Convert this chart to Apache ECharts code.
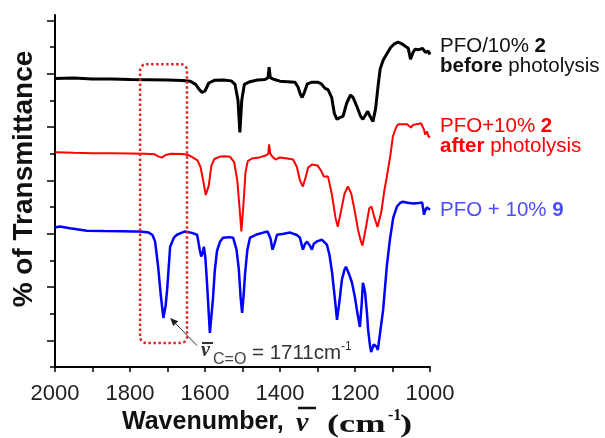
<!DOCTYPE html>
<html><head><meta charset="utf-8">
<script src="https://cdn.jsdelivr.net/npm/echarts@6/dist/echarts.min.js"></script>
<style>html,body{margin:0;padding:0;background:#fff}#c{width:605px;height:438px}</style>
</head><body><div id="c"></div>
<script>
// ---- data (wavenumber cm-1, offset transmittance in tick units) ----
const blackWn = [2000,1950,1900,1850,1800,1750,1700,1660,1640,1625,1615,1608,1600,1590,1575,1550,1530,1520,1512,1507,1502,1495,1480,1460,1440,1432,1429,1426,1415,1400,1380,1360,1352,1345,1341,1335,1327,1315,1300,1290,1280,1272,1262,1255,1248,1240,1232,1222,1212,1205,1195,1185,1179,1172,1166,1160,1152,1145,1138,1133,1125,1115,1105,1095,1085,1075,1065,1058,1052,1045,1040,1030,1020,1012,1005,1000];
const blackT = [10.82,10.84,10.80,10.80,10.78,10.77,10.76,10.74,10.72,10.6,10.4,10.30,10.35,10.65,10.75,10.76,10.73,10.6,10.0,8.8,10.0,10.6,10.70,10.76,10.78,10.85,11.24,10.85,10.78,10.72,10.70,10.68,10.5,10.2,10.11,10.3,10.62,10.68,10.68,10.62,10.45,10.40,10.1,9.5,9.29,9.36,9.4,9.9,10.2,10.1,9.77,9.4,9.29,9.45,9.59,9.4,9.21,9.7,10.6,11.17,11.5,11.75,11.98,12.12,12.18,12.12,12.02,11.95,11.54,11.8,11.92,11.9,11.95,11.8,11.85,11.72];

const redWn = [2000,1950,1900,1850,1800,1760,1735,1725,1715,1705,1690,1660,1645,1635,1620,1612,1605,1598,1594,1590,1583,1575,1560,1545,1533,1522,1514,1508,1503,1498,1492,1486,1475,1455,1438,1431,1429,1426,1420,1412,1400,1380,1365,1355,1347,1339,1332,1325,1315,1300,1290,1283,1272,1262,1252,1246,1238,1228,1219,1210,1200,1192,1184,1180,1176,1170,1162,1156,1148,1140,1136,1130,1122,1115,1105,1099,1090,1085,1070,1061,1051,1045,1040,1030,1024,1016,1013,1008,1004,1000];
const redT = [8.05,8.03,8.02,8.02,8.01,8.0,7.98,7.90,7.85,7.95,8.0,7.99,7.95,7.88,7.75,7.5,7.0,6.45,6.39,6.8,7.55,7.80,7.89,7.90,7.88,7.67,7.0,6.0,5.08,6.0,7.3,7.72,7.82,7.86,7.93,8.0,8.35,8.0,7.88,7.78,7.86,7.82,7.78,7.5,7.0,6.77,7.1,7.48,7.59,7.56,7.35,7.14,7.14,6.5,5.6,5.26,5.8,6.5,6.77,6.5,5.8,5.15,4.7,4.55,4.62,5.3,5.95,6.02,5.6,5.25,5.23,5.8,6.6,7.14,8.0,8.65,9.0,9.10,9.10,9.10,8.98,9.08,9.10,9.12,9.14,8.9,8.72,8.83,8.65,8.61];

const blueWn = [2000,1987,1960,1915,1870,1820,1790,1773,1750,1740,1733,1725,1718,1711,1705,1701,1696,1693,1683,1675,1660,1653,1635,1621,1614,1610,1606,1603,1599,1594,1590,1587,1583,1579,1574,1568,1560,1552,1535,1525,1516,1510,1505,1501,1497,1493,1487,1480,1460,1445,1433,1429,1425,1420,1415,1408,1390,1373,1355,1347,1339,1333,1328,1320,1315,1310,1300,1288,1275,1268,1261,1254,1248,1242,1235,1228,1224,1215,1208,1200,1195,1187,1182,1179,1176,1173,1168,1165,1160,1157,1150,1147,1142,1139,1132,1125,1115,1107,1098,1088,1080,1072,1060,1045,1030,1021,1018,1016,1012,1008,1004,1000];
const blueT = [5.23,5.27,5.2,5.11,5.10,5.09,5.08,5.08,5.04,4.95,4.70,3.76,2.7,1.84,2.3,2.89,3.9,4.51,4.85,4.96,5.05,5.08,5.03,4.96,4.4,4.14,4.3,4.51,4.1,3.0,2.0,1.28,1.9,2.52,3.6,4.35,4.7,4.85,4.87,4.85,4.4,3.7,2.6,2.03,2.7,3.53,4.4,4.85,4.98,5.04,5.08,5.15,4.8,4.40,4.6,4.96,5.0,5.04,4.95,4.85,4.40,4.62,4.70,4.55,4.40,4.62,4.72,4.77,4.59,4.2,3.53,2.6,1.77,2.4,3.27,3.65,3.76,3.45,3.16,2.6,2.14,1.50,2.4,3.16,3.0,2.78,2.0,1.39,0.8,0.56,0.85,0.90,0.75,0.64,1.4,2.14,3.8,4.77,5.6,6.02,6.15,6.20,6.16,6.13,6.15,6.17,5.9,5.71,5.9,5.98,5.95,5.90];

const xLabelValues = [2000,1800,1600,1400,1200,1000];
const yLongTicks = [1,3,5,7,9,11,13];
const yShortTicks = [0,2,4,6,8,10,12];

// annotation anchors in data space
const boxWn = [1773, 1648];
const boxT = [0.90, 11.35];
const peakCO = [1693, 1.84];
const arrowTail = [1621, 0.80];

function pairs(w, t) { return w.map((x, i) => [x, t[i]]); }

const SANS = 'Liberation Sans, Arial, sans-serif';
const SERIF = 'Liberation Serif, Times New Roman, serif';

const chart = echarts.init(document.getElementById('c'));
const yBase = {
  type: 'value', min: 0, max: 13.2, position: 'left',
  axisLabel: { show: false }, splitLine: { show: false }
};
chart.setOption({
  animation: false,
  grid: { left: 55, right: 175, top: 15, bottom: 71 },
  xAxis: {
    type: 'value', min: 1000, max: 2000, interval: 100, inverse: true,
    axisLine: { lineStyle: { color: '#000', width: 2 } },
    axisTick: { length: 5, lineStyle: { color: '#000', width: 1.5 } },
    axisLabel: {
      color: '#222', fontSize: 22, fontFamily: SANS, margin: 16,
      formatter: v => xLabelValues.includes(v) ? String(v) : ''
    },
    splitLine: { show: false }
  },
  yAxis: [
    Object.assign({}, yBase, {
      axisLine: { show: true, lineStyle: { color: '#000', width: 2 } },
      axisTick: { show: true, customValues: yLongTicks, length: 8, lineStyle: { color: '#000', width: 1.5 } }
    }),
    Object.assign({}, yBase, {
      axisLine: { show: false },
      axisTick: { show: true, customValues: yShortTicks, length: 5, lineStyle: { color: '#000', width: 1.5 } }
    })
  ],
  series: [
    { type: 'line', data: pairs(blackWn, blackT), showSymbol: false, symbol: 'none',
      lineStyle: { color: '#000', width: 3 }, itemStyle: { color: '#000' } },
    { type: 'line', data: pairs(redWn, redT), showSymbol: false, symbol: 'none',
      lineStyle: { color: '#ff0000', width: 2 }, itemStyle: { color: '#ff0000' } },
    { type: 'line', data: pairs(blueWn, blueT), showSymbol: false, symbol: 'none',
      lineStyle: { color: '#0000ff', width: 2.5 }, itemStyle: { color: '#0000ff' } }
  ]
});

const px = p => chart.convertToPixel({ gridIndex: 0 }, p);
const b1 = px([boxWn[0], boxT[1]]), b2 = px([boxWn[1], boxT[0]]);
const tip = px(peakCO), tail = px(arrowTail);
const ang = Math.atan2(tip[1] - tail[1], tip[0] - tail[0]);
const hl = 8, hw = 3.5;
const baseX = tip[0] - hl * Math.cos(ang), baseY = tip[1] - hl * Math.sin(ang);
const head = [
  [tip[0], tip[1]],
  [baseX + hw * Math.sin(ang), baseY - hw * Math.cos(ang)],
  [baseX - hw * Math.sin(ang), baseY + hw * Math.cos(ang)]
];

function legendText(x, y, text, color) {
  return {
    type: 'text', x: x, y: y, z: 100,
    style: {
      text: text, align: 'left', verticalAlign: 'middle',
      rich: {
        r: { fontSize: 20.5, fontFamily: SANS, fill: color },
        b: { fontSize: 20.5, fontFamily: SANS, fontWeight: 'bold', fill: color }
      }
    }
  };
}
function txt(x, y, text, font, fill, extra) {
  return Object.assign({
    type: 'text', x: x, y: y, z: 100,
    style: Object.assign({ text: text, align: 'left', verticalAlign: 'middle', fill: fill }, font)
  }, extra || {});
}
function bar(x1, x2, y, w, c) {
  return { type: 'line', z: 100, shape: { x1: x1, y1: y, x2: x2, y2: y }, style: { stroke: c, lineWidth: w } };
}

chart.setOption({
  graphic: [
    { type: 'rect', z: 100,
      shape: { x: b1[0], y: b1[1], width: b2[0] - b1[0], height: b2[1] - b1[1], r: 6 },
      style: { fill: 'none', stroke: '#e02828', lineWidth: 2.5, lineDash: [2.5, 2.5] } },
    { type: 'line', z: 100, shape: { x1: tail[0], y1: tail[1], x2: baseX, y2: baseY },
      style: { stroke: '#333', lineWidth: 1 } },
    { type: 'polygon', z: 100, shape: { points: head }, style: { fill: '#222' } },
    // annotation  ν̄(C=O) = 1711 cm-1
    txt(201, 351, 'ν', { fontSize: 20, fontFamily: SERIF, fontWeight: 'bold', fontStyle: 'italic' }, '#333'),
    bar(202, 213, 343, 2, '#333'),
    txt(213, 360, 'C=O', { fontSize: 16, fontFamily: SANS }, '#444'),
    txt(252, 353, '= 1711cm', { fontSize: 20.5, fontFamily: SANS }, '#333'),
    txt(341, 347, '-1', { fontSize: 12, fontFamily: SANS }, '#333'),
    // legend-like labels
    legendText(440, 46, '{r|PFO/10% }{b|2}', '#111'),
    legendText(440, 66, '{b|before}{r| photolysis}', '#111'),
    legendText(440, 126, '{r|PFO+10% }{b|2}', '#ff0000'),
    legendText(440, 146, '{b|after}{r| photolysis}', '#ff0000'),
    legendText(440, 210, '{r|PFO + 10% }{b|9}', '#4d4dff'),
    // y title
    { type: 'text', x: 24, y: 179, rotation: Math.PI / 2, z: 100,
      style: { text: '% of Transmittance', align: 'center', verticalAlign: 'middle',
        fontSize: 28, fontWeight: 'bold', fontFamily: SANS, fill: '#111' } },
    // x title
    txt(122, 422, 'Wavenumber,', { fontSize: 25, fontFamily: SANS, fontWeight: 'bold' }, '#111'),
    txt(296, 424, 'ν', { fontSize: 28, fontFamily: SERIF, fontWeight: 'bold', fontStyle: 'italic' }, '#111'),
    bar(298, 316, 408, 2.5, '#111'),
    txt(327, 425, '(cm', { fontSize: 26, fontFamily: SERIF, fontWeight: 'bold' }, '#111', { scaleX: 1.4 }),
    txt(388, 416, '-1', { fontSize: 16, fontFamily: SERIF, fontWeight: 'bold' }, '#111'),
    txt(400, 425, ')', { fontSize: 26, fontFamily: SERIF, fontWeight: 'bold' }, '#111', { scaleX: 1.4 })
  ]
});
</script></body></html>
